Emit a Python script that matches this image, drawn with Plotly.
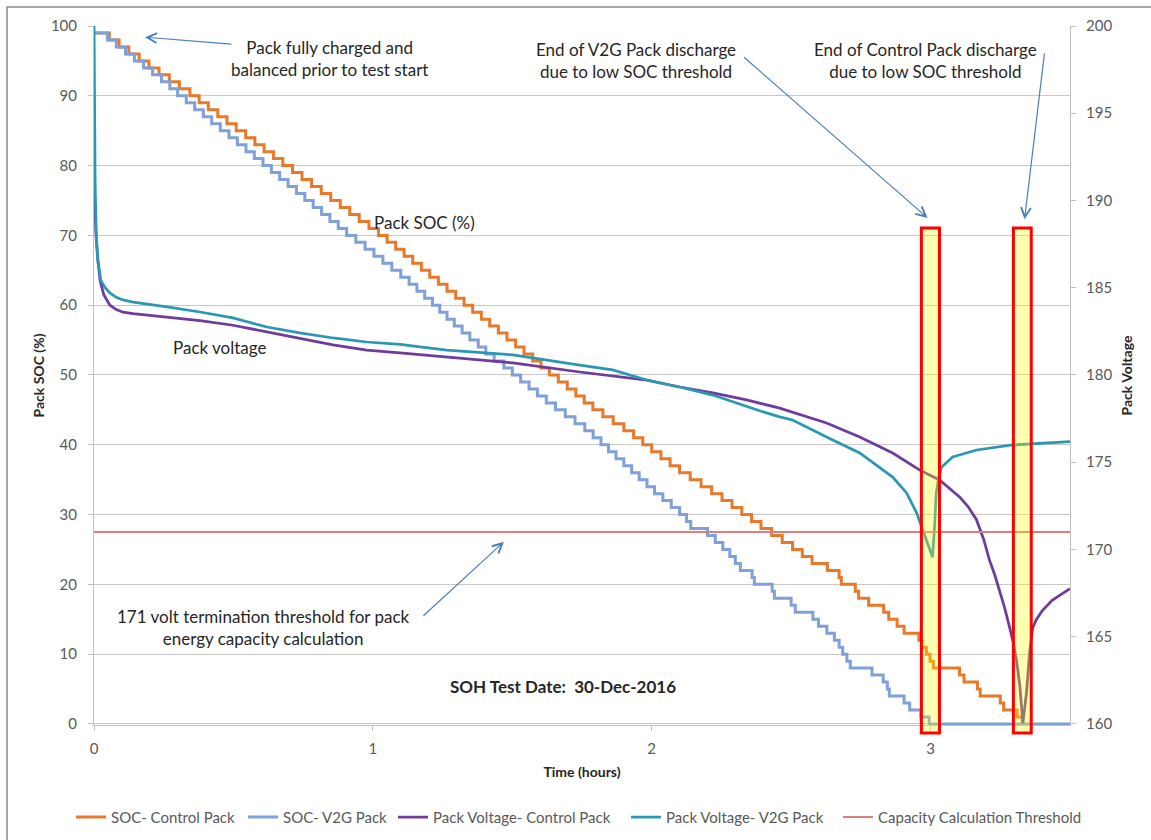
import plotly.graph_objects as go

# ---- Pack state of charge (%) : time (h) at which each SOC level begins ----
ctrl_soc_time = [
    0.000, 0.055, 0.090, 0.125, 0.162, 0.197, 0.233, 0.270, 0.306, 0.344,
    0.377, 0.410, 0.444, 0.477, 0.510, 0.544, 0.577, 0.610, 0.644, 0.677,
    0.712, 0.746, 0.780, 0.815, 0.849, 0.883, 0.917, 0.951, 0.986, 1.020,
    1.051, 1.082, 1.112, 1.143, 1.174, 1.204, 1.235, 1.266, 1.297, 1.327,
    1.358, 1.389, 1.419, 1.450, 1.481, 1.512, 1.542, 1.573, 1.603, 1.633,
    1.665, 1.697, 1.728, 1.758, 1.789, 1.825, 1.862, 1.900, 1.935, 1.968,
    2.000, 2.033, 2.066, 2.100, 2.138, 2.177, 2.215, 2.252, 2.288, 2.323,
    2.358, 2.392, 2.430, 2.468, 2.505, 2.540, 2.575, 2.630, 2.672, 2.680,
    2.730, 2.742, 2.778, 2.832, 2.850, 2.880, 2.905, 2.958, 2.968, 2.985,
    2.998, 3.010, 3.104, 3.120, 3.168, 3.178, 3.250, 3.262, 3.310, 3.330,
    3.340,
]
ctrl_soc = [
    99, 98, 97, 96, 95, 94, 93, 92, 91, 90,
    89, 88, 87, 86, 85, 84, 83, 82, 81, 80,
    79, 78, 77, 76, 75, 74, 73, 72, 71, 70,
    69, 68, 67, 66, 65, 64, 63, 62, 61, 60,
    59, 58, 57, 56, 55, 54, 53, 52, 51, 50,
    49, 48, 47, 46, 45, 44, 43, 42, 41, 40,
    39, 38, 37, 36, 35, 34, 33, 32, 31, 30,
    29, 28, 27, 26, 25, 24, 23, 22, 21, 20,
    19, 18, 17, 16, 15, 14, 13, 12, 11, 10,
    9, 8, 7, 6, 5, 4, 3, 2, 1, 0,
    0,
]

v2g_soc_time = [
    0.000, 0.048, 0.080, 0.113, 0.145, 0.178, 0.210, 0.242, 0.272, 0.300,
    0.331, 0.361, 0.392, 0.422, 0.453, 0.484, 0.514, 0.545, 0.575, 0.606,
    0.636, 0.666, 0.696, 0.726, 0.756, 0.786, 0.816, 0.846, 0.876, 0.906,
    0.939, 0.972, 1.004, 1.036, 1.068, 1.100, 1.130, 1.158, 1.186, 1.214,
    1.240, 1.266, 1.292, 1.320, 1.348, 1.378, 1.405, 1.435, 1.470, 1.500,
    1.530, 1.560, 1.590, 1.622, 1.655, 1.690, 1.725, 1.760, 1.790, 1.818,
    1.845, 1.872, 1.900, 1.928, 1.955, 1.983, 2.010, 2.040, 2.070, 2.100,
    2.125, 2.140, 2.200, 2.228, 2.255, 2.280, 2.300, 2.318, 2.360, 2.368,
    2.432, 2.440, 2.500, 2.515, 2.578, 2.598, 2.628, 2.655, 2.672, 2.685,
    2.700, 2.712, 2.790, 2.830, 2.845, 2.852, 2.905, 2.925, 2.965, 2.995,
    3.500,
]
v2g_soc = [
    99, 98, 97, 96, 95, 94, 93, 92, 91, 90,
    89, 88, 87, 86, 85, 84, 83, 82, 81, 80,
    79, 78, 77, 76, 75, 74, 73, 72, 71, 70,
    69, 68, 67, 66, 65, 64, 63, 62, 61, 60,
    59, 58, 57, 56, 55, 54, 53, 52, 51, 50,
    49, 48, 47, 46, 45, 44, 43, 42, 41, 40,
    39, 38, 37, 36, 35, 34, 33, 32, 31, 30,
    29, 28, 27, 26, 25, 24, 23, 22, 21, 20,
    19, 18, 17, 16, 15, 14, 13, 12, 11, 10,
    9, 8, 7, 6, 5, 4, 3, 2, 1, 0,
    0,
]

# ---- Pack voltage (V) ----
ctrl_volt_time = [
    0.000, 0.003, 0.008, 0.014, 0.022, 0.035, 0.057, 0.080, 0.104,
    0.140, 0.200, 0.262, 0.380, 0.498, 0.620, 0.738, 0.857, 0.978, 1.097,
    1.265, 1.502, 1.742, 1.982, 2.100, 2.219, 2.340, 2.459, 2.627, 2.746,
    2.864, 2.960, 3.032, 3.104, 3.135, 3.165, 3.190, 3.211, 3.230, 3.247,
    3.265, 3.283, 3.296, 3.308, 3.320, 3.331,
    3.344, 3.355, 3.366, 3.380, 3.401, 3.437, 3.470, 3.500,
]
ctrl_volt = [
    190.9, 189.5, 187.8, 186.6, 185.4, 184.6, 184.0, 183.75, 183.6,
    183.52, 183.42, 183.32, 183.12, 182.85, 182.45, 182.10, 181.72, 181.43, 181.26,
    181.03, 180.69, 180.17, 179.71, 179.31, 178.97, 178.57, 178.10, 177.25, 176.45,
    175.53, 174.56, 173.98, 173.01, 172.45, 171.69, 170.60, 169.40, 168.55, 167.68,
    166.70, 165.56, 164.70, 163.67, 162.20, 160.05,
    161.8, 164.07, 165.5, 166.0, 166.5, 167.1, 167.45, 167.75,
]

v2g_volt_time = [
    0.000, 0.002, 0.004, 0.008, 0.014, 0.025, 0.040, 0.057, 0.080, 0.104,
    0.140, 0.262, 0.380, 0.498, 0.620, 0.738, 0.857, 0.978, 1.097, 1.265,
    1.502, 1.742, 1.860, 1.982, 2.100, 2.219, 2.340, 2.387, 2.459, 2.505,
    2.627, 2.746, 2.864, 2.914, 2.950, 2.968, 2.986, 3.007, 3.015, 3.020,
    3.030, 3.040, 3.079, 3.165, 3.294, 3.401, 3.500,
]
v2g_volt = [
    200.5, 195.0, 191.0, 188.0, 186.5, 185.4, 185.0, 184.70, 184.45, 184.30,
    184.18, 183.90, 183.61, 183.27, 182.75, 182.41, 182.12, 181.89, 181.75, 181.43,
    181.15, 180.57, 180.29, 179.71, 179.31, 178.85, 178.17, 177.95, 177.60, 177.42,
    176.45, 175.53, 174.15, 173.24, 172.10, 171.29, 170.54, 169.55, 171.5, 173.2,
    174.2, 174.73, 175.30, 175.70, 175.99, 176.10, 176.18,
]

# ---- 171 V termination threshold ----
threshold_time = [0.0, 3.5]
threshold_volt = [171, 171]

# ---- discharge-end windows (hours) ----
end_windows = [(2.967, 3.032), (3.297, 3.361)]

FONT = "Lato"
TEXT = "#262626"
TICK = "#595959"
GRID = "#C8C8C8"
AXIS = "#BFBFBF"
ARROW = "#4A7EBB"

# one legend box per series so the bottom key row is laid out left-to-right
legend_ids = ["legend", "legend2", "legend3", "legend4", "legend5"]
legend_left_px = [71, 243, 393, 626, 838]

fig = go.Figure()
fig.add_trace(go.Scatter(x=ctrl_soc_time, y=ctrl_soc, mode="lines", line_shape="hv", legend=legend_ids[0],
                         name="SOC- Control Pack", line=dict(color="#E8782A", width=3)))
fig.add_trace(go.Scatter(x=v2g_soc_time, y=v2g_soc, mode="lines", line_shape="hv", legend=legend_ids[1],
                         name="SOC- V2G Pack", line=dict(color="#7FA0D8", width=3)))
fig.add_trace(go.Scatter(x=ctrl_volt_time, y=ctrl_volt, mode="lines", yaxis="y2", legend=legend_ids[2],
                         name="Pack Voltage- Control Pack", line=dict(color="#6F3B9C", width=2.75)))
fig.add_trace(go.Scatter(x=v2g_volt_time, y=v2g_volt, mode="lines", yaxis="y2", legend=legend_ids[3],
                         name="Pack Voltage- V2G Pack", line=dict(color="#2B98B2", width=2.75)))
fig.add_trace(go.Scatter(x=threshold_time, y=threshold_volt, mode="lines", yaxis="y2", legend=legend_ids[4],
                         name="Capacity Calculation Threshold", line=dict(color="#D9807E", width=2)))

shapes = []
# outer chart frame
shapes.append(dict(type="rect", xref="paper", yref="paper", x0=-0.0891, x1=1.2, y0=-0.3, y1=1.0272,
                   line=dict(color="#8C8C8C", width=1.5), fillcolor="rgba(0,0,0,0)", layer="below"))
for x0, x1 in end_windows:
    shapes.append(dict(type="rect", xref="x", yref="paper", x0=x0, x1=x1, y0=-0.0114, y1=0.711,
                       line=dict(color="#FF0000", width=3), fillcolor="rgba(255,255,0,0.3)", layer="above"))

annotations = []
# arrows: (head_x, head_y, tail_x, tail_y) in hours / SOC units
arrows = [
    (0.183, 98.4, 0.498, 97.4),
    (2.989, 72.5, 2.326, 95.7),
    (3.337, 72.3, 3.409, 96.3),
    (1.470, 26.1, 1.176, 15.3),
]
for hx, hy, tx, ty in arrows:
    annotations.append(dict(x=hx, y=hy, ax=tx, ay=ty, xref="x", yref="y", axref="x", ayref="y",
                            text="", showarrow=True, arrowhead=5, arrowsize=1.6, arrowwidth=1.2,
                            arrowcolor=ARROW, standoff=0, startstandoff=0))

labels = [
    (0.846, 95.3, "Pack fully charged and<br>balanced prior to test start", False),
    (1.943, 95.1, "End of V2G Pack discharge<br>due to low SOC threshold", False),
    (2.982, 95.1, "End of Control Pack discharge<br>due to low SOC threshold", False),
    (1.186, 71.9, "Pack SOC (%)", False),
    (0.452, 54.0, "Pack voltage", False),
    (0.609, 13.75, "171 volt termination threshold for pack<br>energy capacity calculation", False),
    (1.683, 5.3, "SOH Test Date:  30-Dec-2016", True),
]
for x, y, t, bold in labels:
    annotations.append(dict(x=x, y=y, xref="x", yref="y", showarrow=False,
                            text=f"<b>{t}</b>" if bold else t,
                            font=dict(family=FONT, size=17, color=TEXT), align="center"))

legend_style = dict(orientation="h", xref="container", yref="container", xanchor="left",
                    y=0.027, yanchor="middle", font=dict(family=FONT, size=15, color=TICK),
                    bgcolor="rgba(0,0,0,0)", borderwidth=0, itemwidth=30)
legends = {lid: dict(legend_style, x=px / 1151) for lid, px in zip(legend_ids, legend_left_px)}

fig.update_layout(
    width=1151, height=840,
    margin=dict(l=94, r=81, t=26, b=115, autoexpand=False),
    paper_bgcolor="white", plot_bgcolor="white",
    font=dict(family=FONT, color=TICK),
    showlegend=True,
    xaxis=dict(range=[0, 3.5], tickvals=[0, 1, 2, 3], showgrid=False, zeroline=False,
               showline=True, linecolor=AXIS, linewidth=1, ticks="outside", ticklen=5, tickcolor=AXIS,
               ticklabelstandoff=5,
               tickfont=dict(family=FONT, size=15, color=TICK),
               title=dict(text="<b>Time (hours)</b>", font=dict(family=FONT, size=14, color=TEXT), standoff=11)),
    yaxis=dict(range=[-0.15, 100], tickvals=[0, 10, 20, 30, 40, 50, 60, 70, 80, 90, 100],
               showgrid=True, gridcolor=GRID, gridwidth=1.3, zeroline=False,
               showline=True, linecolor=AXIS, linewidth=1, ticks="outside", ticklen=5, tickcolor=AXIS,
               ticklabelstandoff=8,
               tickfont=dict(family=FONT, size=15, color=TICK),
               title=dict(text="<b>Pack SOC (%)</b>", font=dict(family=FONT, size=14, color=TEXT), standoff=2)),
    yaxis2=dict(range=[159.94, 200], overlaying="y", side="right",
                tickvals=[160, 165, 170, 175, 180, 185, 190, 195, 200],
                showgrid=False, zeroline=False, showline=True, linecolor=AXIS, linewidth=1,
                ticks="outside", ticklen=5, tickcolor=AXIS,
                ticklabelstandoff=7,
                tickfont=dict(family=FONT, size=15, color=TICK),
                title=dict(text="<b>Pack Voltage</b>", font=dict(family=FONT, size=14, color=TEXT), standoff=10)),
    shapes=shapes,
    annotations=annotations,
    **legends,
)

fig.write_html("out.html")
